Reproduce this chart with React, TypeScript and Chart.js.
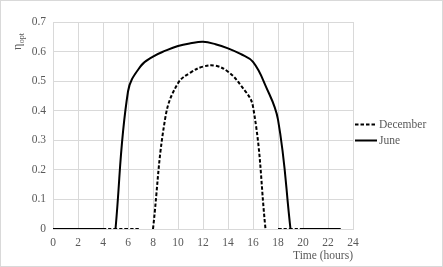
import React, { useEffect, useRef } from "react";
import { Chart, registerables } from "chart.js";

Chart.register(...registerables);

const hours = [0, 1, 2, 3, 4, 5, 6, 7, 8, 9, 10, 11, 12, 13, 14, 15, 16, 17, 18, 19, 20, 21, 22, 23];
const decemberValues = [0, 0, 0, 0, 0, 0, 0, 0, 0, 0.38, 0.493, 0.529, 0.549, 0.552, 0.532, 0.487, 0.414, 0, 0, 0, 0, 0, 0, 0];
const juneValues = [0, 0, 0, 0, 0, 0, 0.465, 0.55, 0.583, 0.603, 0.619, 0.628, 0.633, 0.625, 0.611, 0.592, 0.565, 0.485, 0.37, 0, 0, 0, 0, 0];
// the line is broken (blank cell) right after these hours
const decemberBreaksAfter = [7, 17];
const juneBreaksAfter = [4, 19];
const seriesNames = ["December", "June"];
const xTicks = [0, 2, 4, 6, 8, 10, 12, 14, 16, 18, 20, 22, 24];
const yTicks = [0, 0.1, 0.2, 0.3, 0.4, 0.5, 0.6, 0.7];

const FONT = "'Liberation Serif', 'Times New Roman', serif";
const GRAY = "#595959";
const GRID = "#d9d9d9";

function buildPoints(values: number[], breaks: number[]) {
  const pts: { x: number; y: number | null }[] = [];
  hours.forEach((h, i) => {
    pts.push({ x: h, y: values[i] });
    if (breaks.includes(h)) pts.push({ x: h + 0.5, y: null });
  });
  return pts;
}

const framePlugin = {
  id: "frame",
  beforeDraw(chart: any) {
    const { ctx, width, height } = chart;
    ctx.save();
    ctx.fillStyle = "#ffffff";
    ctx.fillRect(0, 0, width, height);
    ctx.strokeStyle = GRID;
    ctx.lineWidth = 1;
    ctx.strokeRect(0.5, 0.5, width - 1, height - 1);
    ctx.restore();
  },
  afterDraw(chart: any) {
    const { ctx, chartArea, height } = chart;
    ctx.save();
    // y-axis title: eta with subscript "opt"
    ctx.translate(chartArea.left - 32, 50);
    ctx.rotate(-Math.PI / 2);
    ctx.fillStyle = GRAY;
    ctx.textBaseline = "alphabetic";
    ctx.textAlign = "left";
    ctx.font = `12px ${FONT}`;
    ctx.fillText("η", 0, 0);
    const w = ctx.measureText("η").width;
    ctx.font = `8px ${FONT}`;
    ctx.fillText("opt", w + 0.5, 2.5);
    ctx.restore();

    // legend
    ctx.save();
    const x0 = chartArea.right + 2;
    const cy = height / 2;
    chart.data.datasets.forEach((ds: any, i: number) => {
      const y = cy - 9 + i * 16;
      ctx.strokeStyle = ds.borderColor;
      ctx.lineWidth = ds.borderWidth;
      ctx.setLineDash(ds.borderDash || []);
      ctx.beginPath();
      ctx.moveTo(x0, y);
      ctx.lineTo(x0 + 22, y);
      ctx.stroke();
      ctx.setLineDash([]);
      ctx.fillStyle = GRAY;
      ctx.font = `11.5px ${FONT}`;
      ctx.textAlign = "left";
      ctx.textBaseline = "middle";
      ctx.fillText(ds.label, x0 + 24, y);
    });
    ctx.restore();
  },
};

export default function App() {
  const ref = useRef<HTMLCanvasElement>(null);
  useEffect(() => {
    document.body.style.margin = "0";
    const chart = new Chart(ref.current!, {
      type: "line",
      data: {
        datasets: [
          {
            label: seriesNames[0],
            data: buildPoints(decemberValues, decemberBreaksAfter),
            borderColor: "#000000",
            borderWidth: 2,
            borderDash: [3.5, 2],
            pointRadius: 0,
            tension: 0.4,
            spanGaps: false,
            fill: false,
          },
          {
            label: seriesNames[1],
            data: buildPoints(juneValues, juneBreaksAfter),
            borderColor: "#000000",
            borderWidth: 2,
            pointRadius: 0,
            tension: 0.4,
            spanGaps: false,
            fill: false,
          },
        ],
      },
      options: {
        responsive: false,
        animation: false,
        layout: { padding: { left: 0, top: 22, right: 90, bottom: 0 } },
        plugins: { legend: { display: false }, tooltip: { enabled: false } },
        scales: {
          x: {
            type: "linear",
            min: 0,
            max: 24,
            afterBuildTicks: (s: any) => {
              s.ticks = xTicks.map((v) => ({ value: v }));
            },
            afterFit: (s: any) => {
              s.height = 38;
            },
            ticks: {
              color: GRAY,
              font: { family: FONT, size: 11.5 },
              padding: 7,
              maxRotation: 0,
              autoSkip: false,
            },
            grid: { color: GRID, lineWidth: 1, drawTicks: false },
            border: { color: GRID },
            title: {
              display: true,
              text: "Time (hours)",
              align: "end",
              color: GRAY,
              font: { family: FONT, size: 11.5 },
              padding: { top: 2, bottom: 4 },
            },
          },
          y: {
            type: "linear",
            min: 0,
            max: 0.7,
            afterBuildTicks: (s: any) => {
              s.ticks = yTicks.map((v) => ({ value: v }));
            },
            afterFit: (s: any) => {
              s.width = 53;
            },
            ticks: {
              color: GRAY,
              font: { family: FONT, size: 11.5 },
              padding: 7,
              callback: (v: any) => String(+Number(v).toFixed(1)),
            },
            grid: { color: GRID, lineWidth: 1, drawTicks: false },
            border: { color: GRID },
          },
        },
      },
      plugins: [framePlugin],
    } as any);
    return () => chart.destroy();
  }, []);
  return (
    <div style={{ position: "absolute", left: 0, top: 0, width: 443, height: 267 }}>
      <canvas ref={ref} width={443} height={267} style={{ display: "block" }} />
    </div>
  );
}
